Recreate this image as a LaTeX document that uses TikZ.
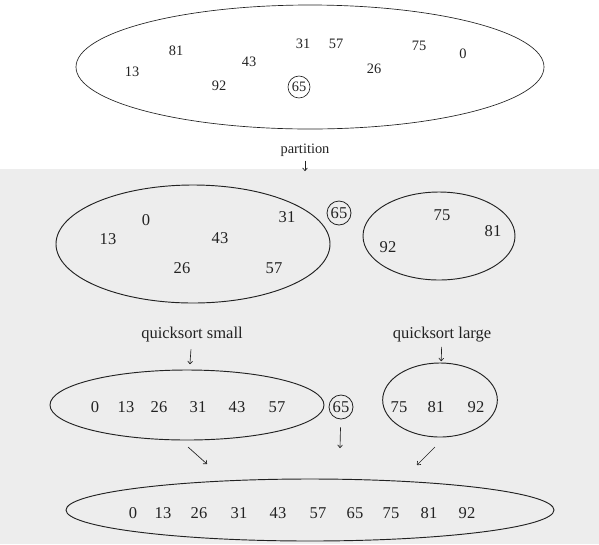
\documentclass[tikz,border=0pt]{standalone}
\usepackage{fontspec}
\setmainfont{Liberation Serif}
\usetikzlibrary{arrows.meta,shapes.geometric}
\definecolor{ink}{HTML}{222222}
\definecolor{page}{HTML}{EDEDED}

\begin{document}
\begin{tikzpicture}[
    x=0.75pt, y=-0.75pt,
    every node/.style={text=ink, inner sep=0pt},
    set/.style={draw=ink, ellipse, line width=0.7pt},
    num/.style={font=\fontsize{12.4}{14}\selectfont},
    tnum/.style={font=\fontsize{10.8}{12}\selectfont},
    pivot/.style={draw=ink, circle, line width=0.6pt, minimum size=#1},
    pivot/.default=18pt,
    arr/.style={-{To[length=2.5pt,width=4pt]}, ink, line width=0.5pt},
  ]
  \fill[page] (0,169) rectangle (599,544);
  \useasboundingbox (0,0) rectangle (599,544);

  % unsorted input
  \node[set, line width=0.5pt, minimum width=351pt, minimum height=93pt] (input) at (310,67) {};
  \foreach \v/\x/\y in {81/176/51, 13/132/72, 43/249/62, 92/219/86, 31/303/44,
                        57/336/44, 75/419/46, 0/463/54, 26/374/69}
    \node[tnum] (t\v) at (\x,\y) {\v};
  \node[tnum, pivot=16.5pt, line width=0.5pt] (tpiv) at (299,87) {65};

  \node[tnum] (part) at (305,150) {partition};
  \coordinate (partend) at (305,171);
  \draw[arr, shorten <=3pt] (part) -- (partend);

  % after partition
  \node[set, minimum width=205.5pt, minimum height=88.5pt] (small) at (193,244) {};
  \foreach \v/\x/\y in {0/146/220, 13/108/239, 43/220/238, 26/182/268, 57/274/268, 31/287/217}
    \node[num] (s\v) at (\x,\y) {\v};
  \node[num, pivot] (mpiv) at (339,213) {65};
  \node[set, minimum width=114pt, minimum height=66pt] (large) at (439,236) {};
  \foreach \v/\x/\y in {75/442/215, 81/493/231, 92/388/247}
    \node[num] (l\v) at (\x,\y) {\v};

  \node[num] (qss) at (192,335) {quicksort small};
  \node[num] (qsl) at (442,335) {quicksort large};

  % sorted parts
  \node[set, minimum width=205.5pt, minimum height=52.5pt] (ssort) at (187,405) {};
  \foreach \v/\x in {0/95, 13/126, 26/159, 31/198, 43/237, 57/277}
    \node[num] (a\v) at (\x,407) {\v};
  \node[num, pivot] (bpiv) at (341,407) {65};
  \node[set, minimum width=86pt, minimum height=55.5pt] (lsort) at (440,400) {};
  \foreach \v/\x in {75/399, 81/436, 92/476}
    \node[num] (b\v) at (\x,407) {\v};

  \draw[arr, shorten <=5pt, shorten >=4pt] (qss) -- (ssort);
  \draw[arr, shorten <=3pt, shorten >=1pt] (qsl) -- (lsort);

  % merged result
  \node[set, minimum width=366pt, minimum height=46.5pt] (result) at (310,510) {};
  \foreach \v/\x in {0/133, 13/163, 26/199, 31/239, 43/278, 57/318, 65/355, 75/391, 81/429, 92/467}
    \node[num] (r\v) at (\x,513) {\v};

  \coordinate (pivend) at (340,448);
  \coordinate (dl0) at (188,447);
  \coordinate (dl1) at (207,464);
  \coordinate (dr0) at (435,447);
  \coordinate (dr1) at (417,465);
  \draw[arr, shorten <=6pt] (bpiv) -- (pivend);
  \draw[arr] (dl0) -- (dl1);
  \draw[arr] (dr0) -- (dr1);
\end{tikzpicture}
\end{document}
